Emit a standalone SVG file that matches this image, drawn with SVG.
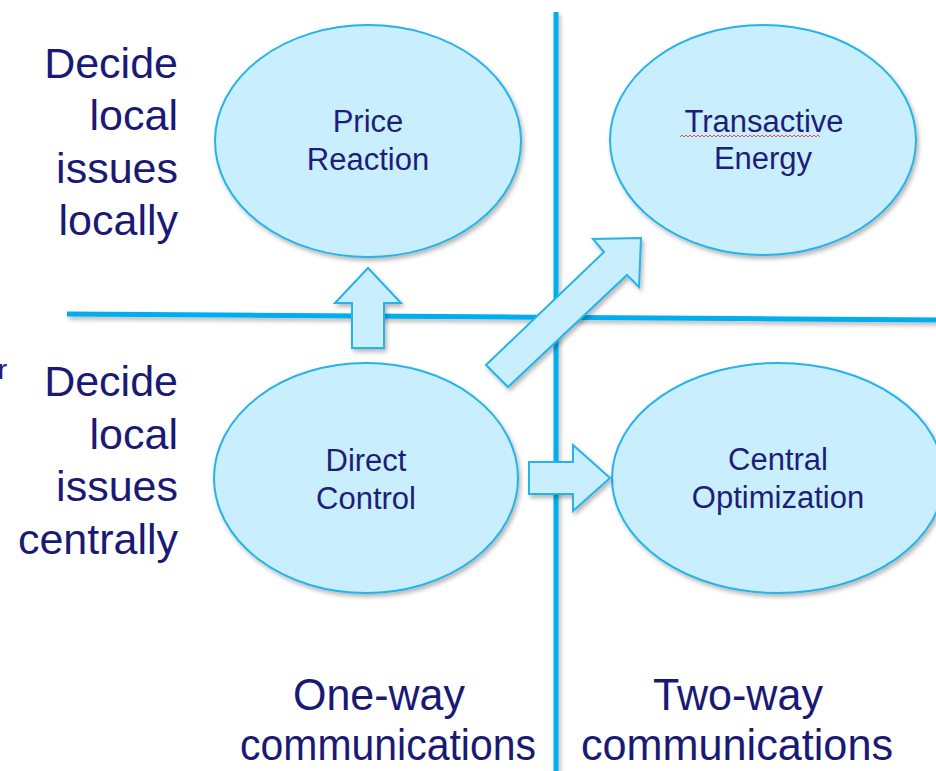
<svg xmlns="http://www.w3.org/2000/svg" width="936" height="771" viewBox="0 0 936 771">
<defs>
<filter id="sh" x="-10%" y="-10%" width="130%" height="130%">
<feDropShadow dx="2" dy="3" stdDeviation="2" flood-color="#000" flood-opacity="0.28"/>
</filter>
<filter id="shl" filterUnits="userSpaceOnUse" x="0" y="0" width="936" height="771">
<feDropShadow dx="2" dy="3" stdDeviation="2" flood-color="#000" flood-opacity="0.28"/>
</filter>
<style>
.ln{stroke:#00AEEF;stroke-width:5;fill:none;filter:url(#shl)}
.node{fill:#C9EFFE;stroke:#26B2EA;stroke-width:2;filter:url(#sh)}
.arr{fill:#C9EFFE;stroke:#26B2EA;stroke-width:2;stroke-linejoin:miter;filter:url(#sh)}
.nt{font-family:"Liberation Sans",Arial,sans-serif;font-size:31px;fill:#1E1E78;text-anchor:middle}
.lt{font-family:"Liberation Sans",Arial,sans-serif;font-size:43px;fill:#1A1A75;text-anchor:end}
.bt{font-family:"Liberation Sans",Arial,sans-serif;font-size:45px;fill:#1A1A75;text-anchor:middle}
</style>
</defs>
<rect width="936" height="771" fill="#ffffff"/>
<g id="axes">
<line class="ln" x1="556" y1="12" x2="556" y2="775"/>
<line class="ln" x1="67" y1="314" x2="940" y2="320"/>
</g>
<g id="labels-left">
<text class="lt" x="7" y="379" style="font-size:28px">r</text>
<text class="lt" x="178" y="78">Decide</text>
<text class="lt" x="178" y="130">local</text>
<text class="lt" x="178" y="183">issues</text>
<text class="lt" x="178" y="235">locally</text>
<text class="lt" x="178" y="396">Decide</text>
<text class="lt" x="178" y="449">local</text>
<text class="lt" x="178" y="501">issues</text>
<text class="lt" x="178" y="554">centrally</text>
</g>
<g id="labels-bottom">
<text class="bt" x="379" y="710" textLength="172" lengthAdjust="spacingAndGlyphs">One-way</text>
<text class="bt" x="388" y="760" textLength="296" lengthAdjust="spacingAndGlyphs">communications</text>
<text class="bt" x="738" y="710" textLength="170" lengthAdjust="spacingAndGlyphs">Two-way</text>
<text class="bt" x="737" y="760" textLength="312" lengthAdjust="spacingAndGlyphs">communications</text>
</g>
<g id="node-price-reaction">
<ellipse class="node" cx="368" cy="141" rx="153" ry="116"/>
<text class="nt" x="368" y="132">Price</text>
<text class="nt" x="368" y="170">Reaction</text>
</g>
<g id="node-transactive-energy">
<ellipse class="node" cx="763" cy="140" rx="153" ry="115"/>
<text class="nt" x="764" y="132">Transactive</text>
<text class="nt" x="763" y="169">Energy</text>
<path d="M680 137 l2-2 2 2 2-2 2 2 2-2 2 2 2-2 2 2 2-2 2 2 2-2 2 2 2-2 2 2 2-2 2 2 2-2 2 2 2-2 2 2 2-2 2 2 2-2 2 2 2-2 2 2 2-2 2 2 2-2 2 2 2-2 2 2 2-2 2 2 2-2 2 2 2-2 2 2 2-2 2 2 2-2 2 2 2-2 2 2 2-2 2 2 2-2 2 2 2-2 2 2 2-2 2 2 2-2 2 2 2-2 2 2 2-2 2 2 2-2 2 2 2-2 2 2 2-2 2 2 2-2 2 2 2-2 2 2 2-2 2 2" fill="none" stroke="#F05050" stroke-width="1"/>
</g>
<g id="node-direct-control">
<ellipse class="node" cx="366" cy="478" rx="152" ry="115"/>
<text class="nt" x="366" y="471">Direct</text>
<text class="nt" x="366" y="509">Control</text>
</g>
<g id="node-central-optimization">
<ellipse class="node" cx="778" cy="478" rx="166" ry="115"/>
<text class="nt" x="778" y="470">Central</text>
<text class="nt" x="778" y="508">Optimization</text>
</g>
<g id="connectors">
<polygon class="arr" points="352,348 352,303 335,303 368,268 401,303 384,303 384,348"/>
<polygon class="arr" points="486,365 604,252 593,239 641,238 639,287 627,275 508,387"/>
<polygon class="arr" points="529,462 573,462 573,445 610,478 573,511 573,494 529,494"/>
</g>
</svg>
